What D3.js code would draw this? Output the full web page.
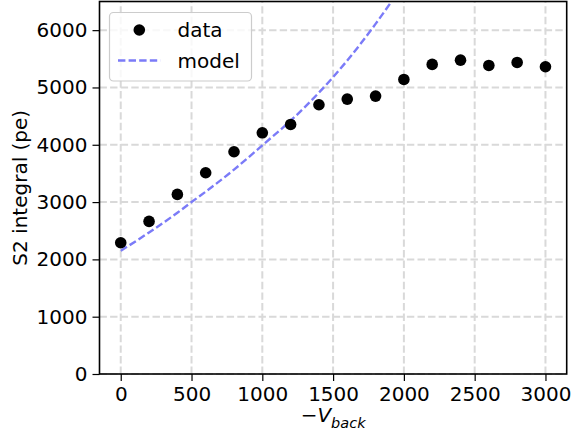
<!DOCTYPE html>
<html>
<head>
<meta charset="utf-8">
<script src="https://cdn.jsdelivr.net/npm/d3@7"></script>
<style>
  body { margin: 0; background: #fff; }
  text { font-family: "DejaVu Sans", sans-serif; }
</style>
</head>
<body>
<div class="svg-container"></div>
<script>
// values
const voltage = [0, 200, 400, 600, 800, 1000, 1200, 1400, 1600, 1800, 2000, 2200, 2400, 2600, 2800, 3000];
const s2 = [2290, 2663, 3134, 3512, 3878, 4209, 4355, 4698, 4797, 4849, 5140, 5402, 5477, 5384, 5436, 5361];

const modelV = [0, 200, 400, 500, 600, 800, 1000, 1200, 1400, 1600, 1800, 2000];
const modelS2 = [2150, 2470, 2814, 3000, 3182, 3566, 3990, 4420, 4910, 5470, 6110, 6810];

const xTicks = [0, 500, 1000, 1500, 2000, 2500, 3000];
const yTicks = [0, 1000, 2000, 3000, 4000, 5000, 6000];

const width = 573;
const height = 437;
const margin = { top: 1.5, right: 6.3, bottom: 63, left: 99.5 };
const fontSize = 20;

const svg = d3.select('.svg-container')
  .append('svg')
  .attr('width', width)
  .attr('height', height)

const x = d3.scaleLinear()
  .domain([-150, 3150])
  .range([margin.left, width - margin.right])

const y = d3.scaleLinear()
  .domain([0, 6500])
  .range([height - margin.bottom, margin.top])

svg.append('clipPath')
  .attr('id', 'plot')
  .append('rect')
  .attr('x', margin.left)
  .attr('y', margin.top)
  .attr('width', width - margin.left - margin.right)
  .attr('height', height - margin.top - margin.bottom)

// grid
const grid = svg.append('g')
  .attr('stroke', '#d9d9d9')
  .attr('stroke-width', 2)
  .attr('stroke-dasharray', '7.4,3.2')

grid.selectAll('.gx')
  .data(xTicks)
  .enter()
  .append('line')
  .attr('x1', d => x(d))
  .attr('x2', d => x(d))
  .attr('y1', y.range()[0])
  .attr('y2', y.range()[1])

grid.selectAll('.gy')
  .data(yTicks)
  .enter()
  .append('line')
  .attr('x1', x.range()[0])
  .attr('x2', x.range()[1])
  .attr('y1', d => y(d))
  .attr('y2', d => y(d))

// model curve
const line = d3.line()
  .x((d, i) => x(modelV[i]))
  .y(d => y(d))
  .curve(d3.curveMonotoneX)

svg.append('path')
  .datum(modelS2)
  .attr('clip-path', 'url(#plot)')
  .attr('fill', 'none')
  .attr('stroke', '#7b7bf8')
  .attr('stroke-width', 2.4)
  .attr('stroke-dasharray', '7.4,3.2')
  .attr('d', line)

// data points
svg.selectAll('.dot')
  .data(s2)
  .enter()
  .append('circle')
  .attr('cx', (d, i) => x(voltage[i]))
  .attr('cy', d => y(d))
  .attr('r', 5.8)
  .attr('fill', '#000')

// axes
const xAxis = svg.append('g')
  .attr('transform', `translate(0,${y.range()[0]})`)
  .call(d3.axisBottom(x).tickValues(xTicks).tickSize(7).tickPadding(6).tickFormat(d3.format('d')))

const yAxis = svg.append('g')
  .attr('transform', `translate(${x.range()[0]},0)`)
  .call(d3.axisLeft(y).tickValues(yTicks).tickSize(7).tickPadding(5).tickFormat(d3.format('d')))

for (const ax of [xAxis, yAxis]) {
  ax.attr('font-size', fontSize).attr('font-family', '"DejaVu Sans", sans-serif')
  ax.select('.domain').remove()
  ax.selectAll('text').attr('fill', '#000')
  ax.selectAll('line').attr('stroke', '#000').attr('stroke-width', 1.2)
}

// frame
svg.append('rect')
  .attr('x', x.range()[0])
  .attr('y', y.range()[1])
  .attr('width', x.range()[1] - x.range()[0])
  .attr('height', y.range()[0] - y.range()[1])
  .attr('fill', 'none')
  .attr('stroke', '#000')
  .attr('stroke-width', 1.6)

// axis labels
const xLabel = svg.append('text')
  .attr('x', (x.range()[0] + x.range()[1]) / 2)
  .attr('y', 421.7)
  .attr('text-anchor', 'middle')
  .attr('font-size', fontSize)

xLabel.append('tspan').text('\u2212')
xLabel.append('tspan').attr('font-style', 'italic').text('V')
xLabel.append('tspan').attr('font-style', 'italic').attr('font-size', 14.5).attr('dy', 6.5).text('back')

svg.append('text')
  .attr('transform', `translate(26.5,${(y.range()[0] + y.range()[1]) / 2}) rotate(-90)`)
  .attr('text-anchor', 'middle')
  .attr('font-size', fontSize)
  .text('S2 integral (pe)')

// legend
const legend = svg.append('g')

legend.append('rect')
  .attr('x', 109.5)
  .attr('y', 12.5)
  .attr('width', 142)
  .attr('height', 68.5)
  .attr('rx', 4)
  .attr('fill', 'rgba(255,255,255,0.8)')
  .attr('stroke', '#cccccc')
  .attr('stroke-width', 1.2)

legend.append('circle')
  .attr('cx', 139.3)
  .attr('cy', 30)
  .attr('r', 5.8)
  .attr('fill', '#000')

legend.append('line')
  .attr('x1', 118)
  .attr('x2', 160.5)
  .attr('y1', 60.5)
  .attr('y2', 60.5)
  .attr('stroke', '#7b7bf8')
  .attr('stroke-width', 2.4)
  .attr('stroke-dasharray', '7.4,3.2')

legend.append('text')
  .attr('x', 177.5)
  .attr('y', 37)
  .attr('font-size', fontSize)
  .text('data')

legend.append('text')
  .attr('x', 177.5)
  .attr('y', 68)
  .attr('font-size', fontSize)
  .text('model')
</script>
</body>
</html>
